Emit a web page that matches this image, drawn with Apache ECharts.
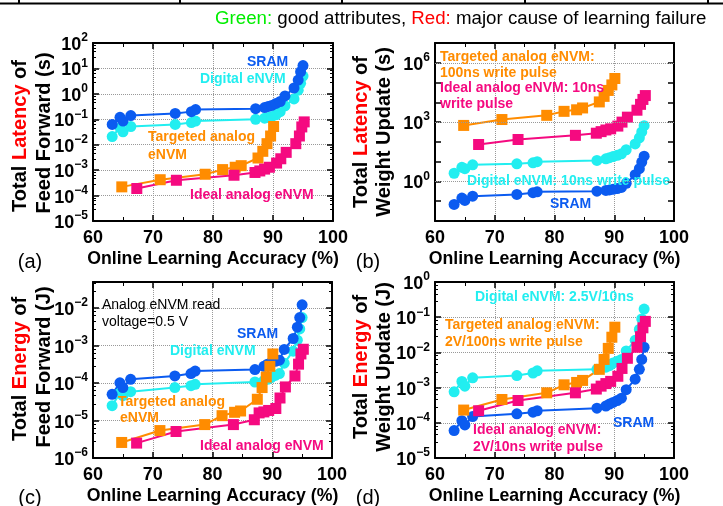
<!DOCTYPE html>
<html>
<head>
<meta charset="utf-8">
<script src="https://cdn.jsdelivr.net/npm/echarts@6/dist/echarts.min.js"></script>
<style>
  html, body { margin: 0; padding: 0; background: #fff; }
  #chart { width: 723px; height: 506px; }
</style>
</head>
<body>
<div id="chart"></div>
<script>
// accuracy (%) of each configuration
var accDigital = [63.2, 64.5, 65.0, 66.3, 73.7, 76.4, 77.1, 87.1, 88.6, 89.2, 89.8, 90.5, 91.2, 92.0, 93.5, 94.2, 94.6, 95.0];
var accTargeted = [64.8, 71.2, 78.7, 81.6, 83.7, 84.7, 87.5, 88.3, 89.0, 89.6, 90.1];
var accIdeal = [67.3, 73.9, 83.5, 87.0, 87.8, 88.6, 89.4, 90.6, 91.3, 92.2, 93.8, 94.4, 94.8, 95.2];

// (a) latency of feed forward (s)
var ffLatSram = [0.063, 0.12, 0.085, 0.14, 0.17, 0.2, 0.24, 0.26, 0.29, 0.32, 0.35, 0.42, 0.5, 0.83, 1.7, 3.5, 7.4, 13];
var ffLatDigital = [0.021, 0.047, 0.032, 0.052, 0.063, 0.074, 0.085, 0.1, 0.11, 0.117, 0.13, 0.15, 0.2, 0.34, 0.63, 1.4, 2.6, 5.0];
var ffLatTargeted = [2.2e-4, 4.2e-4, 6.9e-4, 1.05e-3, 1.3e-3, 1.5e-3, 3.0e-3, 5.5e-3, 1.1e-2, 2.2e-2, 5.2e-2];
var ffLatIdeal = [1.9e-4, 4e-4, 6.3e-4, 8.1e-4, 9.3e-4, 1.1e-3, 1.3e-3, 1.9e-3, 2.8e-3, 5e-3, 0.011, 0.022, 0.05, 0.079];

// (b) latency of weight update (s)
var wuLatSram = [0.069, 0.145, 0.11, 0.18, 0.22, 0.27, 0.3, 0.32, 0.35, 0.37, 0.4, 0.44, 0.5, 0.8, 2.2, 4.4, 9.5, 19];
var wuLatDigital = [2.6, 5.2, 4.4, 6.9, 7.8, 8.7, 10, 11.5, 14, 16, 18, 21, 25, 40, 79, 160, 320, 660];
var wuLatTargeted = [680, 1350, 2200, 3500, 4200, 5200, 10500, 20000, 40000, 76000, 160000];
var wuLatIdeal = [74, 132, 214, 275, 330, 400, 457, 630, 1000, 1780, 4000, 7900, 14000, 22000];

// (c) energy of feed forward (J)
var ffEnSram = [5e-5, 1.02e-4, 7.6e-5, 1.26e-4, 1.55e-4, 1.8e-4, 2.1e-4, 2.3e-4, 2.8e-4, 3.2e-4, 3.5e-4, 3.8e-4, 4.1e-4, 7.9e-4, 1.55e-3, 3.1e-3, 5.6e-3, 1.23e-2];
var ffEnDigital = [2.5e-5, 5.4e-5, 4.6e-5, 5.9e-5, 7.6e-5, 8.5e-5, 9.3e-5, 1.07e-4, 1.17e-4, 1.26e-4, 1.4e-4, 1.6e-4, 1.8e-4, 3.4e-4, 7.1e-4, 1.4e-3, 2.8e-3, 5.6e-3];
var ffEnTargeted = [2.6e-6, 5.4e-6, 7.8e-6, 1.35e-5, 1.66e-5, 1.8e-5, 3.7e-5, 7.6e-5, 1.45e-4, 2.8e-4, 6e-4];
var ffEnIdeal = [2.5e-6, 5.1e-6, 7.8e-6, 1.05e-5, 1.6e-5, 1.7e-5, 1.86e-5, 2.1e-5, 4e-5, 7.9e-5, 1.55e-4, 3.2e-4, 6e-4, 8e-4];

// (d) energy of weight update (J)
var wuEnSram = [6e-5, 1.15e-4, 8.7e-5, 1.5e-4, 1.8e-4, 2e-4, 2.2e-4, 2.6e-4, 3e-4, 3.4e-4, 3.8e-4, 4.3e-4, 5e-4, 8.7e-4, 1.74e-3, 3.3e-3, 6.3e-3, 1.4e-2];
var wuEnDigital = [7.6e-4, 1.5e-3, 1.1e-3, 1.9e-3, 2.2e-3, 2.6e-3, 3e-3, 3.3e-3, 3.8e-3, 4.2e-3, 5e-3, 5.6e-3, 6.3e-3, 1.1e-2, 2.2e-2, 4.5e-2, 8.9e-2, 0.17];
var wuEnTargeted = [2.3e-4, 4.6e-4, 7.1e-4, 1.2e-3, 1.4e-3, 1.6e-3, 3.3e-3, 6.3e-3, 1.3e-2, 2.7e-2, 5.2e-2];
var wuEnIdeal = [2.2e-4, 4.3e-4, 7.1e-4, 9.1e-4, 1.1e-3, 1.3e-3, 1.5e-3, 2.1e-3, 3.5e-3, 6.8e-3, 1.4e-2, 2.8e-2, 5e-2, 7.6e-2];

var yRanges = [[1e-5, 1e2], [1e-2, 1e7], [1e-6, 0.05], [1e-5, 1]];
var labelStep = [1, 3, 1, 1];
var gridLinesB = [1, 1e3, 1e6];

var FONT = "'Liberation Sans', Arial, Helvetica, sans-serif";
var BLUE = "#0b5bf0", CYAN = "#22eef0", ORANGE = "#ff8c00", PINK = "#f50a80";

var grids = [
  { left: 93, top: 43, width: 240, height: 178 },
  { left: 435, top: 43, width: 239, height: 178 },
  { left: 93, top: 282, width: 239, height: 177 },
  { left: 435, top: 282, width: 239, height: 177 }
];

function pairs(xs, ys) {
  return xs.map(function (x, i) { return [x, ys[i]]; });
}

function supLabel(step) {
  return function (v) {
    var e = Math.log10(v);
    var r = Math.round(e);
    if (Math.abs(e - r) > 0.01 || r % step !== 0) return "";
    return "{b|10}{s|" + (r < 0 ? "\u2212" + (-r) : r) + "}";
  };
}

var xAxes = [], yAxes = [];
grids.forEach(function (g, i) {
  xAxes.push({
    gridIndex: i, type: "value", min: 60, max: 100, interval: 10, position: "bottom",
    axisLine: { onZero: false, lineStyle: { color: "#000", width: 2 } },
    axisTick: { inside: true, length: 6, lineStyle: { color: "#000", width: 1.5 } },
    minorTick: { show: true, splitNumber: 2, length: 4, lineStyle: { color: "#000" } },
    axisLabel: { color: "#000", fontSize: 18, fontWeight: "bold", fontFamily: FONT, margin: 8, showMinLabel: true, showMaxLabel: true },
    splitLine: { show: true, lineStyle: { color: "#999", type: "dotted", width: 1 } },
    name: "Online Learning Accuracy (%)", nameLocation: "middle", nameGap: 29,
    nameTextStyle: { color: "#000", fontSize: 17.7, fontWeight: "bold", fontFamily: FONT }
  });
  yAxes.push({
    gridIndex: i, type: "log", logBase: 10, min: yRanges[i][0], max: yRanges[i][1], interval: 1,
    position: "left",
    axisLine: { onZero: false, lineStyle: { color: "#000", width: 2 } },
    axisTick: { inside: true, length: 6, lineStyle: { color: "#000", width: 1.5 } },
    minorTick: { show: i !== 1, splitNumber: 5, length: 3, lineStyle: { color: "#000" } },
    axisLabel: {
      formatter: supLabel(labelStep[i]), margin: 5, showMinLabel: true, showMaxLabel: true,
      rich: {
        b: { fontSize: 18, fontWeight: "bold", fontFamily: FONT, color: "#000", verticalAlign: "bottom", lineHeight: 22 },
        s: { fontSize: 12, fontWeight: "bold", fontFamily: FONT, color: "#000", verticalAlign: "top", lineHeight: 9 }
      }
    },
    splitLine: { show: i !== 1, lineStyle: { color: "#999", type: "dotted", width: 1 } }
  });
});
grids.forEach(function (g, i) {
  xAxes.push({
    gridIndex: i, type: "value", min: 60, max: 100, interval: 10, position: "top",
    axisLine: { onZero: false, lineStyle: { color: "#000", width: 2 } },
    axisTick: { inside: true, length: 6, lineStyle: { color: "#000", width: 1.5 } },
    minorTick: { show: true, splitNumber: 2, length: 4, lineStyle: { color: "#000" } },
    axisLabel: { show: false }, splitLine: { show: false }
  });
  yAxes.push({
    gridIndex: i, type: "log", logBase: 10, min: yRanges[i][0], max: yRanges[i][1], interval: 1,
    position: "right",
    axisLine: { onZero: false, lineStyle: { color: "#000", width: 2 } },
    axisTick: { inside: true, length: 6, lineStyle: { color: "#000", width: 1.5 } },
    minorTick: { show: i !== 1, splitNumber: 5, length: 3, lineStyle: { color: "#000" } },
    axisLabel: { show: false }, splitLine: { show: false }
  });
});

function line(name, i, xs, ys, color, symbol) {
  return {
    name: name, type: "line", xAxisIndex: i, yAxisIndex: i,
    data: pairs(xs, ys), symbol: symbol, symbolSize: 11,
    lineStyle: { color: color, width: 2 }, itemStyle: { color: color },
    animation: false
  };
}

var series = [];
var sets = [
  [ffLatSram, ffLatDigital, ffLatTargeted, ffLatIdeal],
  [wuLatSram, wuLatDigital, wuLatTargeted, wuLatIdeal],
  [ffEnSram, ffEnDigital, ffEnTargeted, ffEnIdeal],
  [wuEnSram, wuEnDigital, wuEnTargeted, wuEnIdeal]
];
sets.forEach(function (s, i) {
  series.push(line("Digital eNVM", i, accDigital, s[1], CYAN, "circle"));
  series.push(line("SRAM", i, accDigital, s[0], BLUE, "circle"));
  series.push(line("Targeted analog eNVM", i, accTargeted, s[2], ORANGE, "rect"));
  series.push(line("Ideal analog eNVM", i, accIdeal, s[3], PINK, "rect"));
});
// (b) only has grid lines every third decade
series[4].markLine = {
  silent: true, symbol: "none", label: { show: false }, animation: false,
  lineStyle: { color: "#999", type: "dotted", width: 1 },
  data: gridLinesB.map(function (v) { return { yAxis: v }; })
};

function txt(x, y, text, color, bold) {
  return {
    type: "text", x: x, y: y, z: 100,
    style: {
      text: text, fill: color, align: "left", verticalAlign: "middle",
      font: (bold === false ? "" : "bold ") + "14px " + FONT
    }
  };
}
function title(x, y, text) {
  return {
    type: "text", x: x, y: y, rotation: Math.PI / 2, z: 100,
    style: {
      text: text, fill: "#000", align: "center", verticalAlign: "middle",
      font: "bold 20px " + FONT,
      rich: { r: { fill: "#ff0000", font: "bold 20px " + FONT } }
    }
  };
}
function plain(x, y, text, size) {
  return {
    type: "text", x: x, y: y, z: 100,
    style: { text: text, fill: "#000", align: "center", verticalAlign: "middle", font: size + "px " + FONT }
  };
}

var graphics = [
  { type: "line", shape: { x1: 0, y1: 3.5, x2: 723, y2: 3.5 }, style: { stroke: "#000", lineWidth: 2 } },
  {
    type: "text", x: 215, y: 19,
    style: {
      text: "{g|Green:} good attributes, {r|Red:} major cause of learning failure",
      fill: "#000", font: "18.7px " + FONT, verticalAlign: "middle",
      rich: { g: { fill: "#00ee00", font: "18.7px " + FONT }, r: { fill: "#ff0000", font: "18.7px " + FONT } }
    }
  },
  title(20, 136, "Total {r|Latency} of"), title(44, 133, "Feed Forward (s)"),
  title(361, 132, "Total {r|Latency} of"), title(384, 132, "Weight Update (s)"),
  title(20, 369, "Total {r|Energy} of"), title(44, 367, "Feed Forward (J)"),
  title(361, 367, "Total {r|Energy} of"), title(384, 367, "Weight Update (J)"),
  plain(30, 262, "(a)", 20), plain(368, 262, "(b)", 20),
  plain(30, 498, "(c)", 20), plain(368, 498, "(d)", 20),

  txt(247, 62, "SRAM", BLUE), txt(200, 79, "Digital eNVM", CYAN),
  txt(148, 137, "Targeted analog", ORANGE), txt(148, 155, "eNVM", ORANGE),
  txt(190, 195, "Ideal analog eNVM", PINK),

  txt(440, 57, "Targeted analog eNVM:", ORANGE), txt(440, 73, "100ns write pulse", ORANGE),
  txt(440, 88, "Ideal analog eNVM: 10ns", PINK), txt(440, 104, "write pulse", PINK),
  txt(467, 181, "Digital eNVM: 10ns write pulse", CYAN), txt(550, 204, "SRAM", BLUE),

  txt(102, 305, "Analog eNVM read", "#000", false), txt(102, 322, "voltage=0.5 V", "#000", false),
  txt(237, 334, "SRAM", BLUE), txt(170, 351, "Digital eNVM", CYAN),
  txt(118, 402, "Targeted analog", ORANGE), txt(120, 418, "eNVM", ORANGE),
  txt(200, 446, "Ideal analog eNVM", PINK),

  txt(475, 297, "Digital eNVM: 2.5V/10ns", CYAN),
  txt(445, 325, "Targeted analog eNVM:", ORANGE), txt(445, 342, "2V/100ns write pulse", ORANGE),
  txt(473, 430, "Ideal analog eNVM:", PINK), txt(473, 447, "2V/10ns write pulse", PINK),
  txt(613, 423, "SRAM", BLUE)
];
[19, 180, 342, 525, 708].forEach(function (x) {
  graphics.push({ type: "line", shape: { x1: x, y1: 0, x2: x, y2: 4 }, style: { stroke: "#000", lineWidth: 2 } });
});

var myChart = echarts.init(document.getElementById("chart"));
var option = {
  backgroundColor: "#fff",
  animation: false,
  grid: grids,
  xAxis: xAxes,
  yAxis: yAxes,
  series: series,
  graphic: graphics
};
myChart.setOption(option);
</script>
</body>
</html>
